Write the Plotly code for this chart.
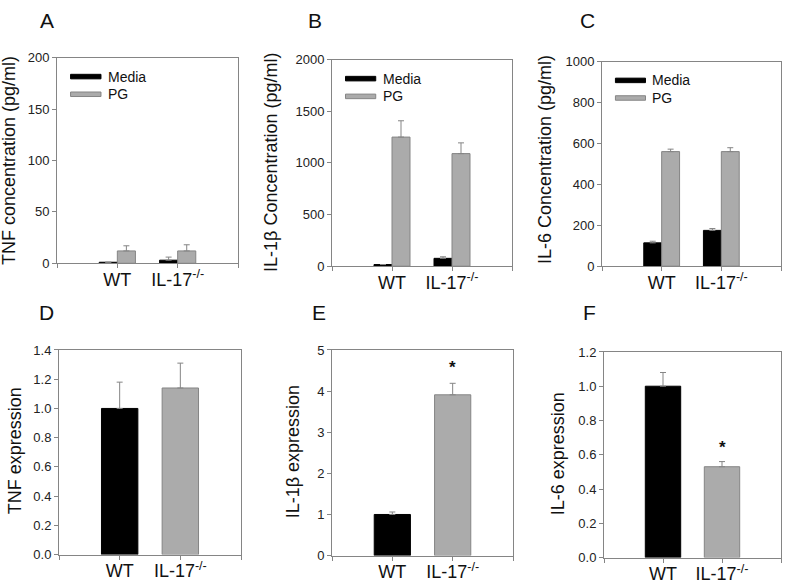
import plotly.graph_objects as go
from plotly.subplots import make_subplots

W, H = 785, 586

# ---------------- data ----------------
groups = ["WT", "IL-17<sup>-/-</sup>"]
group_pos = [1, 2]

# Panel A: TNF concentration (pg/ml)
tnf_media = [1, 3]
tnf_media_err = [0, 3]
tnf_pg = [12, 12]
tnf_pg_err = [5, 6]

# Panel B: IL-1b concentration (pg/ml)
il1b_media = [16, 76]
il1b_media_err = [0, 15]
il1b_pg = [1250, 1090]
il1b_pg_err = [158, 104]

# Panel C: IL-6 concentration (pg/ml)
il6_media = [114, 175]
il6_media_err = [8, 9]
il6_pg = [560, 560]
il6_pg_err = [12, 19]

# Panels D-F: expression
tnf_expr = [1.0, 1.14]
tnf_expr_err = [0.18, 0.17]
il1b_expr = [1.0, 3.91]
il1b_expr_err = [0.06, 0.28]
il6_expr = [1.0, 0.53]
il6_expr_err = [0.08, 0.03]

BLACK = "#000000"
GRAY = "#ababab"
LINE = "#858585"
FONT = "Liberation Sans, Arial, sans-serif"


def px(x):
    return x / W


def py(y):
    return 1 - y / H


fig = make_subplots(rows=2, cols=3)


def err(arr):
    return dict(type="data", array=arr, arrayminus=[0] * len(arr), symmetric=False,
                color=LINE, thickness=1, width=3)


def add_pair(media, media_err, pg, pg_err, row, col):
    fig.add_trace(go.Bar(x=group_pos, y=media, error_y=err(media_err), name="Media",
                         marker=dict(color=BLACK, line=dict(color=BLACK, width=1)),
                         showlegend=False), row=row, col=col)
    fig.add_trace(go.Bar(x=group_pos, y=pg, error_y=err(pg_err), name="PG",
                         marker=dict(color=GRAY, line=dict(color=LINE, width=1)),
                         showlegend=False), row=row, col=col)


def add_single(vals, errs, row, col):
    fig.add_trace(go.Bar(x=group_pos, y=vals, error_y=err(errs),
                         marker=dict(color=[BLACK, GRAY], line=dict(color=[BLACK, LINE], width=1)),
                         width=0.6, showlegend=False), row=row, col=col)


add_pair(tnf_media, tnf_media_err, tnf_pg, tnf_pg_err, 1, 1)
add_pair(il1b_media, il1b_media_err, il1b_pg, il1b_pg_err, 1, 2)
add_pair(il6_media, il6_media_err, il6_pg, il6_pg_err, 1, 3)
add_single(tnf_expr, tnf_expr_err, 2, 1)
add_single(il1b_expr, il1b_expr_err, 2, 2)
add_single(il6_expr, il6_expr_err, 2, 3)

# pixel boxes (left, right, top, bottom)
boxes = [
    (57, 238, 52, 263),
    (332, 512, 54, 266),
    (602, 781, 56, 266),
    (59, 241, 352, 562),
    (332, 513, 352, 563),
    (604, 781, 354, 565),
]
yranges = [(0, 200, 50, None), (0, 2000, 500, None), (0, 1000, 200, None),
           (0, 1.4, 0.2, ".1f"), (0, 5, 1, None), (0, 1.2, 0.2, ".1f")]

for i, (l, r, t, b) in enumerate(boxes):
    sfx = "" if i == 0 else str(i + 1)
    lo, hi, dt, fmt = yranges[i]
    fig.layout["xaxis" + sfx].update(
        domain=[px(l), px(r)], range=[0, 3], tickmode="array",
        tickvals=group_pos, ticktext=groups,
        showline=True, linecolor=LINE, linewidth=1, mirror=True,
        ticks="outside", ticklen=4, tickcolor=LINE, showgrid=False, zeroline=False,
        ticklabelstandoff=-4,
        minor=dict(tickmode="linear", tick0=0, dtick=1, ticks="outside", ticklen=4,
                   tickcolor=LINE, showgrid=False),
        tickfont=dict(family=FONT, size=18, color="#111111"), fixedrange=True)
    yk = dict(domain=[py(b), py(t)], range=[lo, hi], dtick=dt, tick0=0,
              showline=True, linecolor=LINE, linewidth=1, mirror=True,
              ticks="outside", ticklen=4, tickcolor=LINE, showgrid=False, zeroline=False,
              tickfont=dict(family=FONT, size=13, color="#222222"), fixedrange=True)
    if fmt:
        yk["tickformat"] = fmt
    fig.layout["yaxis" + sfx].update(**yk)

annotations = []
shapes = []

# panel letters (y = top of text box)
letters = [("A", 47, 0), ("B", 315, 0), ("C", 587, 0),
           ("D", 46, 300), ("E", 319, 300), ("F", 589, 300)]
for txt, x, y in letters:
    annotations.append(dict(text=txt, x=px(x), y=py(y), xref="paper", yref="paper",
                            showarrow=False, font=dict(family=FONT, size=21, color="#111111"),
                            xanchor="center", yanchor="top"))

# y titles
ytitles = [("TNF concentration (pg/ml)", 9, 158),
           ("IL-1β Concentration (pg/ml)", 271, 160),
           ("IL-6 Concentration (pg/ml)", 545, 157),
           ("TNF expression", 15, 456),
           ("IL-1β expression", 293, 457),
           ("IL-6 expression", 558, 459)]
for txt, x, y in ytitles:
    annotations.append(dict(text=txt, x=px(x), y=py(y), xref="paper", yref="paper",
                            showarrow=False, textangle=-90,
                            font=dict(family=FONT, size=18, color="#111111"),
                            xanchor="center", yanchor="middle"))

# in-plot legends for panels A-C
legend_items = [("Media", BLACK, BLACK, 0.908), ("PG", GRAY, LINE, 0.822)]
for i in range(3):
    sfx = "" if i == 0 else str(i + 1)
    for name, fill, edge, yc in legend_items:
        shapes.append(dict(type="rect", xref="x" + sfx + " domain", yref="y" + sfx + " domain",
                           x0=0.075, x1=0.243, y0=yc - 0.011, y1=yc + 0.011,
                           fillcolor=fill, line=dict(color=edge, width=1)))
        annotations.append(dict(text=name, xref="x" + sfx + " domain", yref="y" + sfx + " domain",
                                x=0.27, y=yc, showarrow=False, xanchor="left", yanchor="middle",
                                font=dict(family=FONT, size=14, color="#111111")))

# significance asterisks
annotations.append(dict(text="<b>*</b>", x=2, y=il1b_expr[1] + il1b_expr_err[1] + 0.38,
                        xref="x5", yref="y5", showarrow=False,
                        font=dict(family=FONT, size=17, color="#111111")))
annotations.append(dict(text="<b>*</b>", x=2, y=il6_expr[1] + il6_expr_err[1] + 0.08,
                        xref="x6", yref="y6", showarrow=False,
                        font=dict(family=FONT, size=17, color="#111111")))

fig.update_layout(
    width=W, height=H, margin=dict(l=0, r=0, t=0, b=0),
    paper_bgcolor="white", plot_bgcolor="white",
    barmode="group", bargap=0.4, bargroupgap=0,
    annotations=annotations, shapes=shapes, showlegend=False,
    font=dict(family=FONT),
)

fig.write_html("out.html", config={"displayModeBar": False},
               post_script="document.body.style.margin='0';document.body.style.overflow='hidden';")
